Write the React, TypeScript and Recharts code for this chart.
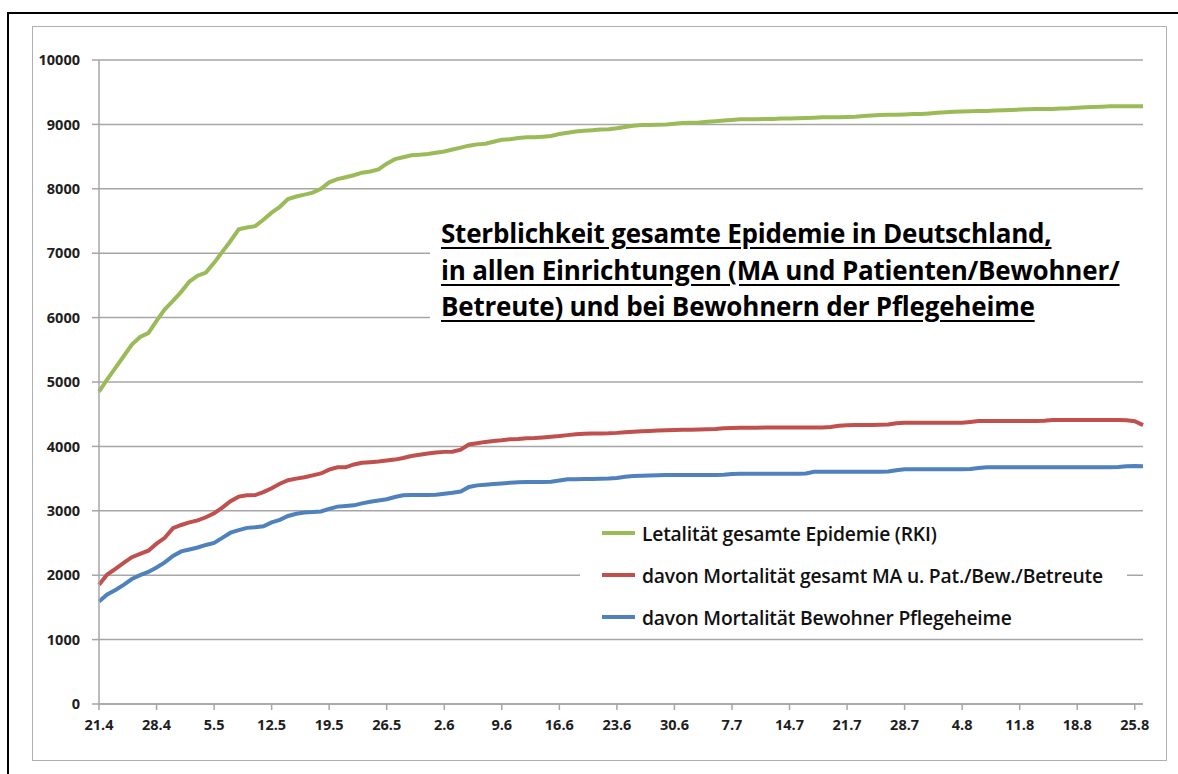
import { CartesianGrid, Legend, Line, LineChart, XAxis, YAxis } from "recharts";

const dates = [
  "21.4", "22.4", "23.4", "24.4", "25.4", "26.4", "27.4", "28.4", "29.4", "30.4",
  "1.5", "2.5", "3.5", "4.5", "5.5", "6.5", "7.5", "8.5", "9.5", "10.5",
  "11.5", "12.5", "13.5", "14.5", "15.5", "16.5", "17.5", "18.5", "19.5", "20.5",
  "21.5", "22.5", "23.5", "24.5", "25.5", "26.5", "27.5", "28.5", "29.5", "30.5",
  "31.5", "1.6", "2.6", "3.6", "4.6", "5.6", "6.6", "7.6", "8.6", "9.6",
  "10.6", "11.6", "12.6", "13.6", "14.6", "15.6", "16.6", "17.6", "18.6", "19.6",
  "20.6", "21.6", "22.6", "23.6", "24.6", "25.6", "26.6", "27.6", "28.6", "29.6",
  "30.6", "1.7", "2.7", "3.7", "4.7", "5.7", "6.7", "7.7", "8.7", "9.7",
  "10.7", "11.7", "12.7", "13.7", "14.7", "15.7", "16.7", "17.7", "18.7", "19.7",
  "20.7", "21.7", "22.7", "23.7", "24.7", "25.7", "26.7", "27.7", "28.7", "29.7",
  "30.7", "31.7", "1.8", "2.8", "3.8", "4.8", "5.8", "6.8", "7.8", "8.8",
  "9.8", "10.8", "11.8", "12.8", "13.8", "14.8", "15.8", "16.8", "17.8", "18.8",
  "19.8", "20.8", "21.8", "22.8", "23.8", "24.8", "25.8", "26.8",
];

// Letalität gesamte Epidemie (RKI)
const letalitaet = [
  4850, 5040, 5220, 5400, 5580, 5700, 5760, 5950, 6130, 6260,
  6400, 6560, 6650, 6700, 6850, 7020, 7190, 7370, 7400, 7420,
  7520, 7630, 7720, 7840, 7880, 7910, 7940, 8000, 8100, 8150,
  8180, 8210, 8250, 8270, 8300, 8390, 8460, 8490, 8520, 8530,
  8540, 8560, 8580, 8610, 8640, 8670, 8690, 8700, 8730, 8760,
  8770, 8790, 8800, 8800, 8810, 8820, 8850, 8870, 8890, 8900,
  8910, 8920, 8925, 8940, 8960, 8980, 8990, 8990, 8995, 9000,
  9010, 9020, 9025, 9030, 9040, 9050, 9060, 9070, 9080, 9080,
  9080, 9085, 9085, 9090, 9090, 9095, 9100, 9105, 9110, 9110,
  9110, 9115, 9120, 9130, 9140, 9145, 9150, 9150, 9155, 9160,
  9160, 9170, 9180, 9190, 9195, 9200, 9205, 9210, 9210, 9215,
  9220, 9225, 9230, 9235, 9240, 9240, 9240, 9245, 9250, 9260,
  9265, 9270, 9275, 9280, 9280, 9280, 9280, 9280,
];

// davon Mortalität gesamt MA u. Pat./Bew./Betreute
const mortalitaetGesamt = [
  1850, 2010, 2100, 2190, 2280, 2330, 2380, 2490, 2580, 2730,
  2780, 2820, 2850, 2900, 2960, 3050, 3150, 3220, 3240, 3245,
  3290, 3350, 3420, 3475, 3500, 3520, 3550, 3580, 3640, 3675,
  3675, 3720, 3745, 3755, 3765, 3780, 3795, 3820, 3850, 3870,
  3890, 3905, 3915, 3918, 3950, 4030, 4050, 4070, 4085, 4095,
  4110, 4115, 4125, 4130, 4140, 4150, 4160, 4175, 4190, 4195,
  4200, 4200, 4203, 4210, 4220, 4229, 4235, 4240, 4245, 4250,
  4255, 4258, 4260, 4262, 4265, 4270, 4280, 4285, 4290, 4290,
  4290, 4292, 4295, 4295, 4295, 4295, 4295, 4295, 4295, 4300,
  4320, 4330, 4332, 4332, 4332, 4335, 4340, 4360, 4368, 4368,
  4368, 4368, 4368, 4368, 4368, 4368, 4380, 4394, 4394, 4394,
  4394, 4394, 4394, 4394, 4394, 4400, 4410, 4410, 4410, 4410,
  4410, 4410, 4410, 4410, 4410, 4405, 4390, 4330,
];

// davon Mortalität Bewohner Pflegeheime
const mortalitaetPflegeheime = [
  1590, 1700, 1770, 1850, 1940, 2000, 2050, 2120, 2200, 2300,
  2370, 2400, 2430, 2470, 2500, 2580, 2660, 2700, 2735, 2745,
  2760, 2820, 2860, 2920, 2955, 2975, 2980, 2990, 3030, 3065,
  3075, 3085, 3115, 3140, 3160, 3180, 3215, 3240, 3245, 3245,
  3245, 3248, 3265, 3280, 3300, 3370, 3395, 3405, 3415, 3425,
  3437, 3442, 3447, 3447, 3447, 3450, 3470, 3489, 3490, 3492,
  3495, 3497, 3500, 3510, 3530, 3540, 3545, 3550, 3553, 3556,
  3556, 3556, 3556, 3556, 3556, 3556, 3558, 3570, 3575, 3575,
  3575, 3575, 3575, 3575, 3575, 3575, 3580, 3605, 3608, 3608,
  3608, 3608, 3608, 3608, 3608, 3608, 3610, 3630, 3644, 3644,
  3644, 3644, 3644, 3644, 3644, 3644, 3650, 3665, 3675, 3675,
  3675, 3675, 3675, 3675, 3675, 3675, 3675, 3675, 3675, 3675,
  3675, 3675, 3675, 3675, 3680, 3690, 3696, 3690,
];

const yTicks = [0, 1000, 2000, 3000, 4000, 5000, 6000, 7000, 8000, 9000, 10000];

const titleLines = [
  "Sterblichkeit gesamte Epidemie in Deutschland,",
  "in allen Einrichtungen (MA und Patienten/Bewohner/",
  "Betreute) und bei Bewohnern der Pflegeheime",
];

const series = [
  { key: "letalitaet", name: "Letalität gesamte Epidemie (RKI)", color: "#9bbb59" },
  { key: "gesamt", name: "davon Mortalität gesamt MA u. Pat./Bew./Betreute", color: "#c0504d" },
  { key: "pflege", name: "davon Mortalität Bewohner Pflegeheime", color: "#4f81bd" },
];

const data = dates.map((date, i) => ({
  date,
  letalitaet: letalitaet[i],
  gesamt: mortalitaetGesamt[i],
  pflege: mortalitaetPflegeheime[i],
}));

const FONT = "'Open Sans', 'DejaVu Sans', sans-serif";
const GRID = "#a6a6a6";
const TICK = { fontSize: 14.5, fontWeight: 700, fill: "#1e1e1e", fontFamily: FONT };

function LegendBox() {
  return (
    <div
      style={{
        fontFamily: FONT,
        fontSize: 19.3,
        fontWeight: 600,
        color: "#111",
        letterSpacing: -0.2,
      }}
    >
      {series.map((s) => (
        <div key={s.key} style={{ display: "flex", alignItems: "center", height: 42 }}>
          <span
            style={{
              display: "inline-block",
              width: 33,
              height: 4,
              background: s.color,
              marginLeft: 22,
              marginRight: 7,
            }}
          />
          <span>{s.name}</span>
        </div>
      ))}
    </div>
  );
}

export default function App() {
  return (
    <div
      style={{
        position: "absolute",
        left: 0,
        top: 0,
        width: 1178,
        height: 774,
        overflow: "hidden",
        background: "#fff",
      }}
    >
      <div
        style={{
          position: "absolute",
          left: 7,
          top: 12,
          width: 1200,
          height: 800,
          border: "2px solid #000",
        }}
      />
      <div
        style={{
          position: "absolute",
          left: 32,
          top: 26,
          width: 1133,
          height: 733,
          border: "1.5px solid #b0b0b0",
        }}
      />
      <div style={{ position: "absolute", left: 0, top: 0 }}>
        <LineChart
          width={1178}
          height={774}
          data={data}
          margin={{ top: 60, right: 35, bottom: 40, left: 39 }}
        >
          <CartesianGrid vertical={false} stroke={GRID} strokeWidth={1.5} />
          <XAxis
            dataKey="date"
            interval={6}
            height={30}
            tickSize={6}
            tickMargin={10}
            stroke={GRID}
            axisLine={{ stroke: GRID, strokeWidth: 1.5 }}
            tickLine={{ stroke: GRID, strokeWidth: 1.5 }}
            tick={TICK}
          />
          <YAxis
            domain={[0, 10000]}
            ticks={yTicks}
            width={60}
            tickSize={7}
            tickMargin={12}
            stroke={GRID}
            axisLine={{ stroke: GRID, strokeWidth: 1.5 }}
            tickLine={{ stroke: GRID, strokeWidth: 1.5 }}
            tick={TICK}
          />
          {series.map((s) => (
            <Line
              key={s.key}
              type="linear"
              dataKey={s.key}
              name={s.name}
              stroke={s.color}
              strokeWidth={4}
              dot={false}
              isAnimationActive={false}
            />
          ))}
          <Legend
            layout="horizontal"
            verticalAlign="middle"
            align="center"
            content={() => <LegendBox />}
            wrapperStyle={{
              left: 580,
              top: 512,
              width: 547,
              height: 126,
              background: "#fff",
            }}
          />
        </LineChart>
      </div>
      <div
        style={{
          position: "absolute",
          left: 430,
          top: 204,
          width: 720,
          height: 134,
          background: "#fff",
        }}
      />
      <div
        style={{
          position: "absolute",
          left: 441,
          top: 215,
          fontFamily: FONT,
          fontWeight: 700,
          fontSize: 26,
          lineHeight: "36.5px",
          letterSpacing: -0.2,
          color: "#000",
          whiteSpace: "nowrap",
        }}
      >
        {titleLines.map((t) => (
          <div key={t} style={{ textDecoration: "underline", textUnderlineOffset: 4 }}>
            {t}
          </div>
        ))}
      </div>
    </div>
  );
}
